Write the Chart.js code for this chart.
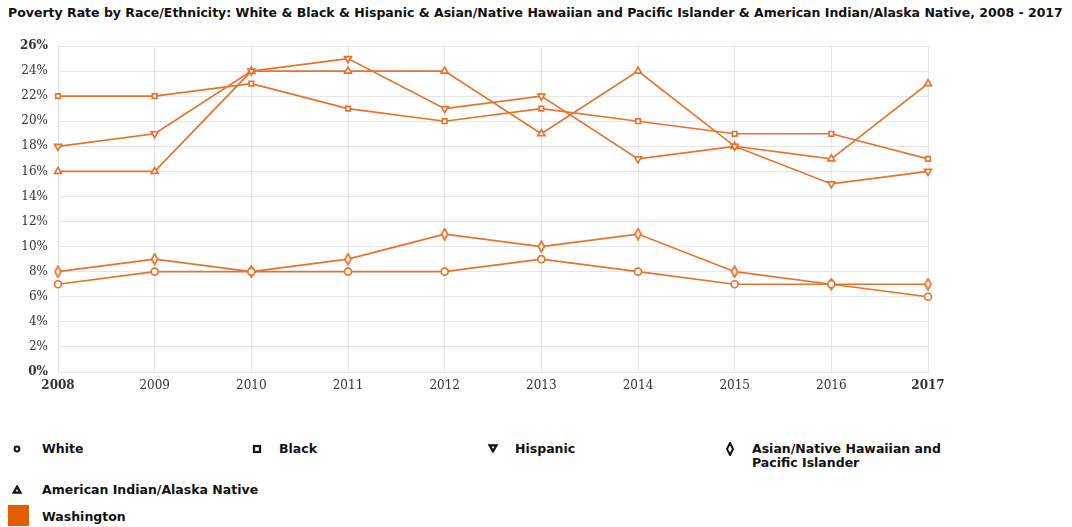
<!DOCTYPE html>
<html>
<head>
<meta charset="utf-8">
<script src="https://cdn.jsdelivr.net/npm/chart.js@4"></script>
<style>
  html, body { margin: 0; padding: 0; background: #fff; }
  body { width: 1072px; height: 527px; position: relative; overflow: hidden; font-family: "DejaVu Sans", sans-serif; }
  #title { position: absolute; left: 8px; top: 5px; font-size: 12.5px; font-weight: bold; color: #111; white-space: nowrap; }
  #wrap { position: absolute; left: 0; top: 0; width: 1072px; height: 400px; }
  .leg { position: absolute; font-size: 12.5px; font-weight: bold; color: #111; line-height: 14px; }
  .leg svg { position: absolute; left: -30px; top: 0; }
  .swatch { position: absolute; left: 8px; top: 505px; width: 21px; height: 21px; background: #e35d00; }
</style>
</head>
<body>
<div id="title">Poverty Rate by Race/Ethnicity: White &amp; Black &amp; Hispanic &amp; Asian/Native Hawaiian and Pacific Islander &amp; American Indian/Alaska Native, 2008 - 2017</div>
<div id="wrap"><canvas id="chart" width="1072" height="400"></canvas></div>

<div class="leg" style="left:42px;top:442px"><svg width="20" height="14" style="left:-30px"><circle cx="5" cy="7" r="2.4" fill="none" stroke="#111" stroke-width="2"/></svg>White</div>
<div class="leg" style="left:279px;top:442px"><svg width="20" height="14" style="left:-28px"><rect x="3" y="4" width="6" height="6" fill="none" stroke="#111" stroke-width="2.2"/></svg>Black</div>
<div class="leg" style="left:515px;top:442px"><svg width="20" height="14" style="left:-28px"><polygon points="2,3 10,3 6,10" fill="#111" stroke="#111" stroke-width="1.6"/><polygon points="4.6,4.6 7.4,4.6 6,7" fill="#fff"/></svg>Hispanic</div>
<div class="leg" style="left:752px;top:442px;width:200px"><svg width="20" height="14" style="left:-27px"><polygon points="5,1 8,7 5,13 2,7" fill="none" stroke="#111" stroke-width="2"/></svg>Asian/Native Hawaiian and Pacific Islander</div>
<div class="leg" style="left:42px;top:483px"><svg width="20" height="14" style="left:-30px"><polygon points="5,3 9,10 1,10" fill="#111" stroke="#111" stroke-width="1.6"/><polygon points="5,6 6.4,8.5 3.6,8.5" fill="#fff"/></svg>American Indian/Alaska Native</div>
<div class="swatch"></div>
<div class="leg" style="left:42px;top:510px">Washington</div>

<script>
const years = ["2008", "2009", "2010", "2011", "2012", "2013", "2014", "2015", "2016", "2017"]
const white = [7, 8, 8, 8, 8, 9, 8, 7, 7, 6]
const black = [22, 22, 23, 21, 20, 21, 20, 19, 19, 17]
const hispanic = [18, 19, 24, 25, 21, 22, 17, 18, 15, 16]
const asianNhpi = [8, 9, 8, 9, 11, 10, 11, 8, 7, 7]
const aian = [16, 16, 24, 24, 24, 19, 24, 18, 17, 23]
const yMax = 26

const LINE = "#e8722c"

// thin diamond marker for the Asian/NHPI series
function diamond() {
  const c = document.createElement("canvas")
  c.width = 9; c.height = 13
  const g = c.getContext("2d")
  g.beginPath()
  g.moveTo(4.5, 1); g.lineTo(7.5, 6.5); g.lineTo(4.5, 12); g.lineTo(1.5, 6.5); g.closePath()
  g.fillStyle = "#fff"; g.fill()
  g.strokeStyle = LINE; g.lineWidth = 1.8; g.stroke()
  return c
}

function series(label, data, style, extra = {}) {
  return {
    label, data,
    borderColor: LINE,
    backgroundColor: "#fff",
    pointBackgroundColor: "#fff",
    pointBorderColor: LINE,
    borderWidth: 1.7,
    pointBorderWidth: 1.7,
    pointRadius: 3.5,
    pointStyle: style,
    tension: 0,
    ...extra
  }
}

const tickFont = (bold) => ({ family: "DejaVu Serif", size: 12, weight: bold ? "bold" : "normal" })

new Chart(document.getElementById("chart"), {
  type: "line",
  data: {
    labels: years,
    datasets: [
      series("White", white, "circle"),
      series("Black", black, "rect", { pointRadius: 3.2 }),
      series("Hispanic", hispanic, "triangle", { pointRotation: 180, pointRadius: 4 }),
      series("Asian/Native Hawaiian and Pacific Islander", asianNhpi, diamond()),
      series("American Indian/Alaska Native", aian, "triangle", { pointRadius: 4 })
    ]
  },
  options: {
    responsive: false,
    animation: false,
    layout: { padding: { top: 46, right: 144, left: 0, bottom: 0 } },
    plugins: { legend: { display: false }, tooltip: { enabled: false } },
    scales: {
      x: {
        offset: false,
        grid: { color: "#e6e6e6", drawTicks: false },
        border: { color: "#e6e6e6" },
        ticks: {
          color: "#333", padding: 7, maxRotation: 0,
          font: (ctx) => tickFont(ctx.index === 0 || ctx.index === years.length - 1)
        },
        afterFit: (s) => { s.height = 28 }
      },
      y: {
        min: 0, max: yMax,
        grid: { color: "#e6e6e6", drawTicks: false },
        border: { color: "#e6e6e6" },
        ticks: {
          stepSize: 2, color: "#333", padding: 10, callback: (v) => v + "%",
          font: (ctx) => tickFont(ctx.tick && (ctx.tick.value === 0 || ctx.tick.value === yMax))
        },
        afterFit: (s) => { s.width = 58 }
      }
    }
  }
})
</script>
</body>
</html>
